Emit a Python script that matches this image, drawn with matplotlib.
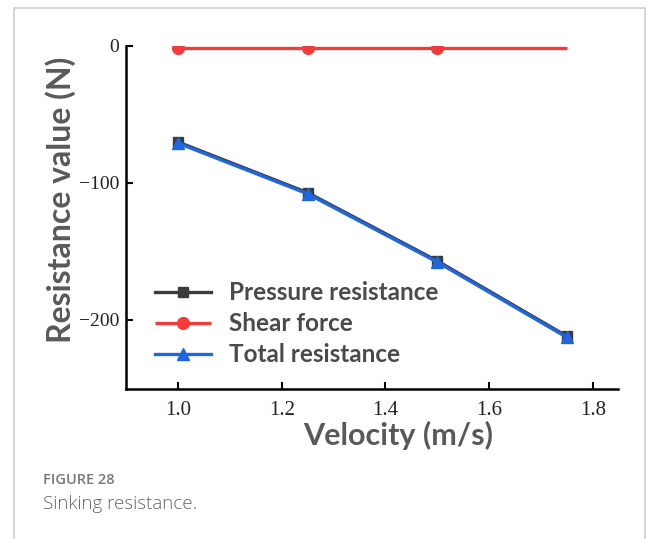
import matplotlib
matplotlib.use("Agg")
from matplotlib import pyplot as plt
from matplotlib.patches import Rectangle

# values
velocity = [1.0, 1.25, 1.5, 1.75]
pressure = [-70.2, -107.2, -157.0, -212.0]
shear = [-1.5, -1.5, -1.5, -1.5]
total = [-71.0, -108.0, -157.8, -212.8]
xticks = [1.0, 1.2, 1.4, 1.6, 1.8]
yticks = [0, -100, -200]

sans = "Lato"
serif = "Liberation Serif"


def main():
	fig = plt.figure(figsize=(6.58, 5.39), dpi=100)
	ax = fig.add_axes([126 / 658, 1 - 388.5 / 539, 492 / 658, (388.5 - 45.7) / 539])

	ax.plot(velocity, pressure, color="#3c3c3c", lw=2.4, marker="s", ms=7, label="Pressure resistance")
	ax.plot(velocity, shear, color="#f23c3c", lw=2.4, marker="o", ms=8.5, markevery=[0, 1, 2],
		solid_capstyle="butt", label="Shear force")
	ax.plot(velocity, total, color="#1f66e0", lw=2.4, marker="^", ms=9, label="Total resistance")

	ax.set_xlim(0.9, 1.848)
	ax.set_ylim(-250, 0)
	ax.set_xticks(xticks)
	ax.set_xticklabels(["%.1f" % t for t in xticks])
	ax.set_yticks(yticks)
	ax.set_yticklabels(["0", "\u2212100", "\u2212200"])
	for lab in ax.get_xticklabels():
		lab.set_fontfamily(serif)
		lab.set_fontsize(15)
		lab.set_color("#222222")
	for lab in ax.get_yticklabels():
		lab.set_fontfamily(serif)
		lab.set_fontsize(14)
		lab.set_color("#222222")
	ax.tick_params(axis="both", direction="in", length=5, width=1.5)
	ax.tick_params(axis="x", pad=9)
	ax.tick_params(axis="y", pad=5)

	for s in ["top", "right"]:
		ax.spines[s].set_visible(False)
	for s in ["left", "bottom"]:
		ax.spines[s].set_linewidth(1.8)

	ax.set_xlabel("Velocity (m/s)", family=sans, weight="bold", fontsize=22, color="#595959")
	ax.xaxis.set_label_coords(0.553, -0.094)
	ax.set_ylabel("Resistance value (N)", family=sans, weight="bold", fontsize=23, color="#595959")
	ax.yaxis.set_label_coords(-0.102, 0.55)

	leg = ax.legend(loc="upper left", bbox_to_anchor=(0.025, 0.362), frameon=False,
		prop={"family": sans, "weight": "bold", "size": 17.5}, handlelength=2.3,
		handletextpad=0.75, labelspacing=0.33, borderpad=0.2)
	for t in leg.get_texts():
		t.set_color("#4a4a4a")

	fig.patches.append(Rectangle((13.5 / 658, -0.1), (645 - 13.5) / 658, 1.1 - 8 / 539,
		transform=fig.transFigure, fill=False, edgecolor="#d0d0d0", lw=1.2))
	fig.text(43 / 658, 1 - 484 / 539, "FIGURE 28", family="Open Sans", weight="semibold",
		fontsize=10.5, color="#777777")
	fig.text(43 / 658, 1 - 509 / 539, "Sinking resistance.", family="Open Sans", weight="light",
		fontsize=13.5, color="#666666")

	fig.savefig("out.png", dpi=100)


if __name__ == '__main__':
	main()
